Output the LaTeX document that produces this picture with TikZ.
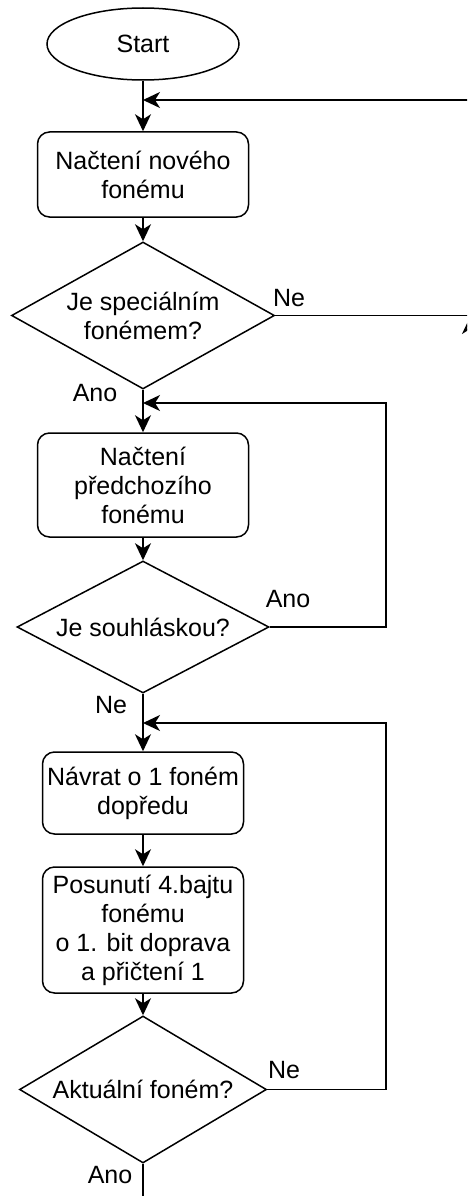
\documentclass[tikz,border=0pt]{standalone}
\usepackage{fontspec}
\setmainfont{Liberation Sans}
\usetikzlibrary{shapes.geometric,arrows.meta}
\begin{document}
\begin{tikzpicture}[x=1pt,y=-1pt,
  line width=1.5pt,
  every node/.style={font=\fontsize{25}{29}\selectfont},
  proc/.style={draw, rounded corners=12pt, align=center, inner sep=0pt},
  dec/.style={draw, diamond, align=center, inner sep=0pt},
  arr/.style={-{Stealth[length=17pt,width=16pt,inset=5pt]}},
  lbl/.style={inner sep=0pt}
]
\useasboundingbox (0,0) rectangle (467,1196);
\clip (0,0) rectangle (467,1196);

\node[draw, ellipse, minimum width=192pt, minimum height=72pt, inner sep=0pt] (start) at (143,44) {Start};
\node[proc, minimum width=211pt, minimum height=85pt] (b1) at (143,174.5) {Načtení nového\\fonému};
\node[dec, minimum width=263pt, minimum height=147pt, aspect=1.79] (d1) at (143,315.5) {Je speciálním\\fonémem?};
\node[proc, minimum width=211pt, minimum height=104pt] (b2) at (143,485) {Načtení\\předchozího\\fonému};
\node[dec, minimum width=252pt, minimum height=132pt, aspect=1.91] (d2) at (143,627) {Je souhláskou?};
\node[proc, minimum width=201pt, minimum height=82pt] (b3) at (143,793) {Návrat o 1 foném\\dopředu};
\node[proc, minimum width=201pt, minimum height=126pt] (b4) at (143,930) {Posunutí 4.bajtu\\fonému\\o 1. bit doprava\\a přičtení 1};
\node[dec, minimum width=247pt, minimum height=147pt, aspect=1.68] (d3) at (143,1089.5) {Aktuální foném?};

\coordinate (rin) at (468,100);
\coordinate (loop) at (386,0);
\coordinate (j1) at (143,403);
\coordinate (j2) at (143,723);
\coordinate (bot) at (143,1200);
\coordinate (pt0) at (470,360);
\coordinate (pt1) at (470,317);

\draw[arr] (start) -- (b1);
\draw[arr] (rin) -- (b1.north |- rin);
\draw[arr] (b1) -- (d1);
\draw (d1.east) -- (d1.east -| rin);
\draw[arr] (pt0) -- (pt1);
\draw[arr] (d1) -- (b2);
\draw[arr] (b2) -- (d2);
\draw[arr] (d2.east) -- (d2.east -| loop) -- (loop |- j1) -- (j1);
\draw[arr] (d2) -- (b3);
\draw[arr] (b3) -- (b4);
\draw[arr] (b4) -- (d3);
\draw[arr] (d3.east) -- (d3.east -| loop) -- (loop |- j2) -- (j2);
\draw (d3.south) -- (bot);

\node[lbl] (lne1) at (289,298) {Ne};
\node[lbl] (lano1) at (95,393) {Ano};
\node[lbl] (lano2) at (288,599) {Ano};
\node[lbl] (lne2) at (111,705) {Ne};
\node[lbl] (lne3) at (284,1070) {Ne};
\node[lbl] (lano3) at (110,1175) {Ano};
\end{tikzpicture}
\end{document}
